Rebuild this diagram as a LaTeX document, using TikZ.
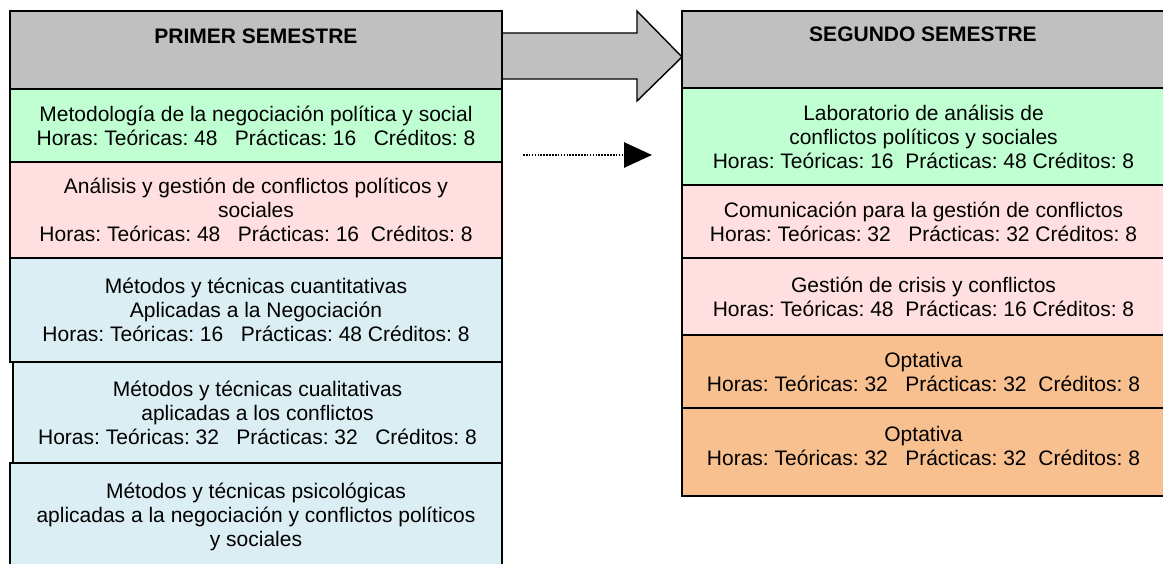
\documentclass[tikz,border=0pt]{standalone}
\usepackage{fontspec}
\setmainfont{Liberation Sans}
\usetikzlibrary{arrows.meta,backgrounds}
\definecolor{gris}{RGB}{192,192,192}
\definecolor{verde}{RGB}{191,255,210}
\definecolor{rosa}{RGB}{255,223,223}
\definecolor{azul}{RGB}{218,238,243}
\definecolor{naranja}{RGB}{249,192,143}
\newcommand{\tres}{\hspace{0.83em}}
\newcommand{\dos}{\hspace{0.56em}}
\frenchspacing
\tikzset{
  caja/.style={draw,line width=1.4pt,anchor=north west,inner sep=0pt,outer sep=0pt,
    align=center,font=\fontsize{21}{24}\selectfont},
  izq/.style={caja,minimum width=492pt},
  der/.style={caja,minimum width=483pt},
  titulo/.style={font=\fontsize{21}{24}\selectfont\bfseries}
}
\begin{document}
\begin{tikzpicture}[x=1pt,y=-1pt]
    \useasboundingbox (0,0) rectangle (1163,564);
    % primer semestre
    \node[izq,fill=gris,minimum height=78pt] (pa) at (10,11) {};
    \node[titulo] (ta) at (256,36) {PRIMER SEMESTRE};
    \node[izq,fill=verde,minimum height=73pt] (pb) at (10,89) {Metodología de la negociación política y social\\Horas: Teóricas: 48\tres Prácticas: 16\tres Créditos: 8};
    \node[izq,fill=rosa,minimum height=96pt] (pc) at (10,162) {Análisis y gestión de conflictos políticos y\\sociales\\Horas: Teóricas: 48\tres Prácticas: 16\dos Créditos: 8};
    \node[izq,fill=azul,minimum height=104pt] (pd) at (10,258) {Métodos y técnicas cuantitativas\\Aplicadas a la Negociación\\Horas: Teóricas: 16\tres Prácticas: 48 Créditos: 8};
    \node[izq,fill=azul,minimum height=101pt,minimum width=489pt] (pe) at (13,362) {Métodos y técnicas cualitativas\\aplicadas a los conflictos\\Horas: Teóricas: 32\tres Prácticas: 32\tres Créditos: 8};
    \node[izq,fill=azul,minimum height=107pt] (pf) at (10,463) {Métodos y técnicas psicológicas\\aplicadas a la negociación y conflictos políticos\\y sociales};
    % segundo semestre
    \node[der,fill=gris,minimum height=77pt] (sa) at (682,11) {};
    \node[titulo] (tb) at (923,34) {SEGUNDO SEMESTRE};
    \node[der,fill=verde,minimum height=97pt] (sb) at (682,88) {Laboratorio de análisis de\\conflictos políticos y sociales\\Horas: Teóricas: 16\dos Prácticas: 48 Créditos: 8};
    \node[der,fill=rosa,minimum height=73pt] (sc) at (682,185) {Comunicación para la gestión de conflictos\\Horas: Teóricas: 32\tres Prácticas: 32 Créditos: 8};
    \node[der,fill=rosa,minimum height=77pt] (sd) at (682,258) {Gestión de crisis y conflictos\\Horas: Teóricas: 48\dos Prácticas: 16 Créditos: 8};
    \node[der,fill=naranja,minimum height=73pt] (se) at (682,335) {Optativa\\Horas: Teóricas: 32\tres Prácticas: 32\dos Créditos: 8};
    \node[der,fill=naranja,minimum height=88pt] (sf) at (682,408) {Optativa\\Horas: Teóricas: 32\tres Prácticas: 32\dos Créditos: 8\\[-12pt]\mbox{}};
    % flechas
    \begin{scope}[on background layer]
    \draw[line width=1.4pt,fill=gris,line join=miter] ([yshift=-22pt]pa.north east) -- ++(135,0) -- ++(0,-22)
        -- ([yshift=-7.5pt]sa.west) -- ++(-45,44) -- ++(0,-22) -- ([yshift=-68pt]pa.north east);
    \end{scope}
    \coordinate (da) at (523,155);
    \coordinate (db) at (652,155);
    \draw[line width=2.8pt,dash pattern=on 1.6pt off 1.3pt,-{Triangle[length=28pt,width=25pt]}] (da) -- (db);
\end{tikzpicture}
\end{document}
